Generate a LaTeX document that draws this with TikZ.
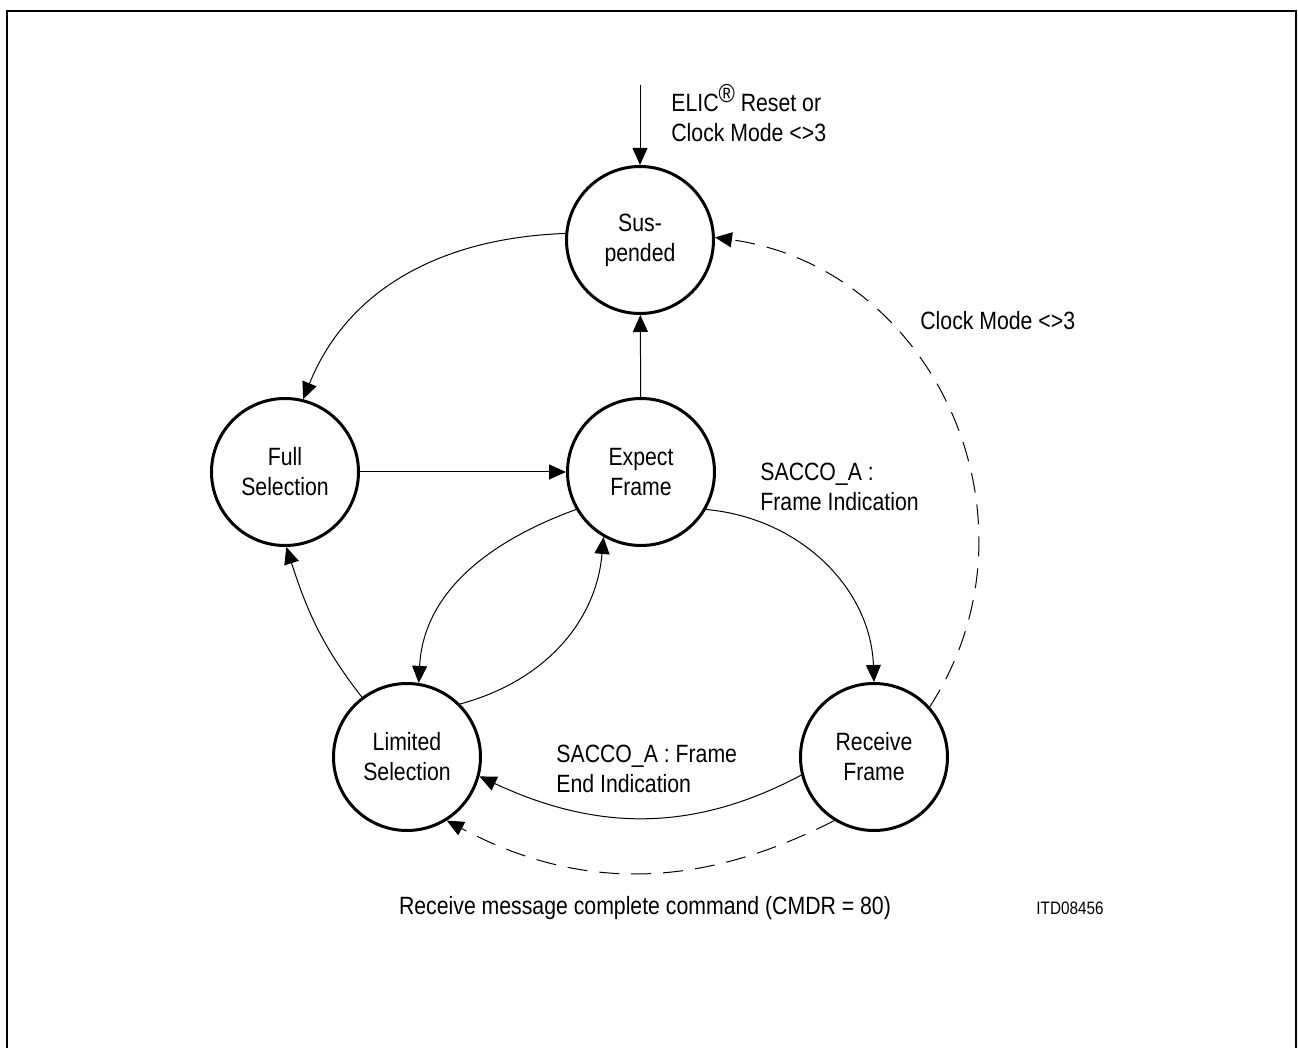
\documentclass[tikz,border=0pt]{standalone}
\usepackage{fontspec}
\setmainfont{Liberation Sans}[FakeStretch=0.85]
\usetikzlibrary{arrows.meta}

\begin{document}
\begin{tikzpicture}[x=0.5pt, y=0.5pt,
    >={Triangle[length=8.5pt,width=7.5pt]},
    state/.style={circle, draw, line width=1.5pt, minimum size=73.5pt,
        inner sep=0pt, align=center, font=\fontsize{12.5}{15}\selectfont},
    trans/.style={->, line width=0.5pt},
    dtrans/.style={trans, dash pattern=on 10pt off 6pt},
    lbl/.style={inner sep=0pt, align=left, anchor=west,
        font=\fontsize{12.5}{15}\selectfont}]
    \useasboundingbox (0,0) rectangle (1298,-1048);

    % --- Frame ---
    \draw[line width=1.2pt] (7,-1048) -- (7,-11) -- (1296,-11) -- (1296,-1048);

    % --- States ---
    \node[state] (susp)    at (640,-240) {Sus-\\pended};
    \node[state] (full)    at (285,-472) {Full\\Selection};
    \node[state] (expect)  at (641,-472) {Expect\\Frame};
    \node[state] (limited) at (407,-757) {Limited\\Selection};
    \node[state] (receive) at (874,-757) {Receive\\Frame};

    % --- Reset entry ---
    \coordinate (resetin) at (640,-85);
    \draw[trans] (resetin) -- (susp);
    \node[lbl] (lblreset) at (671,-113) {ELIC\raisebox{0.75ex}{\fontsize{13}{13}\selectfont\textregistered} Reset or\\Clock Mode <>3};

    % --- Transitions ---
    \draw[trans] (susp.175) to[out=182, in=68] (full.76);
    \draw[trans] (full) -- (expect);
    \draw[trans] (expect) -- (susp);
    \draw[trans] (expect.-30) to[out=-5, in=92] (receive.90);
    \draw[trans] (expect.210) to[out=200, in=87] (limited.81);
    \draw[trans] (limited.45) to[out=15, in=-95] (expect.240);
    \draw[trans] (limited.127) to[out=128, in=-72] (full.271);
    \draw[trans] (receive.194) to[out=208, in=-25] (limited.-15);
    \draw[dtrans] (receive.238) to[out=207, in=-28] (limited.-58);
    \draw[dtrans] (receive.42) to[out=57, in=-8, looseness=1.1] (susp.2);

    % --- Labels ---
    \node[lbl] (lblclock) at (920,-321) {Clock Mode <>3};
    \node[lbl] (lblframeind) at (760,-487) {SACCO\_A :\\Frame Indication};
    \node[lbl] (lblendind) at (556,-769) {SACCO\_A : Frame\\End Indication};
    \node[lbl, anchor=center] (lblcmdr) at (645,-908) {Receive message complete command (CMDR = 80)};
    \node[lbl, font=\fontsize{9}{11}\selectfont] (lblid) at (1036,-908) {ITD08456};
\end{tikzpicture}
\end{document}
